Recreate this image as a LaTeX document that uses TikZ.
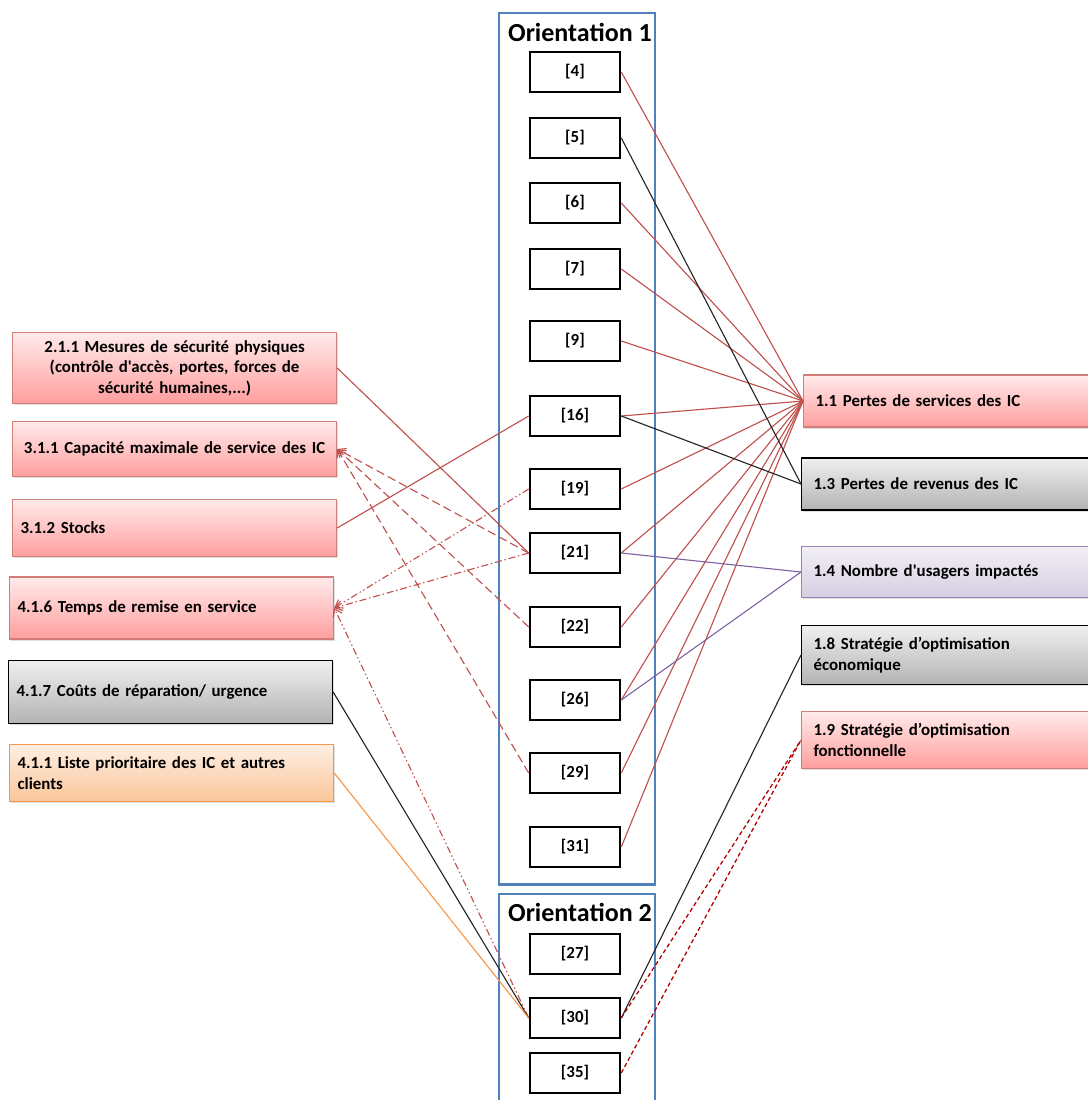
\documentclass[tikz,border=0pt]{standalone}
\usepackage{fontspec}
\setmainfont{Carlito}[Ligatures=TeXOff]
\usetikzlibrary{arrows.meta,shadows}
\definecolor{ocblue}{HTML}{4F81BD}
\definecolor{ocred}{HTML}{C0504D}
\definecolor{ocpurple}{HTML}{8064A2}
\definecolor{ocorange}{HTML}{F79646}
\begin{document}
\begin{tikzpicture}[x=0.025cm,y=-0.025cm,font=\bfseries\fontsize{12}{14.5}\selectfont]
            \tikzstyle{refbox}=[draw=black, line width=1.8pt, fill=white, minimum width=2.25cm, minimum height=1cm, inner sep=1pt]
            \tikzstyle{orient}=[draw=ocblue, line width=1.5pt, minimum width=3.9cm, anchor=north west, inner sep=0pt]
            \tikzstyle{title}=[font=\bfseries\fontsize{18.5}{20}\selectfont, inner sep=0pt]
            \tikzstyle{soft}=[drop shadow={opacity=0.25, shadow xshift=0.8pt, shadow yshift=-1.2pt}]
            \tikzstyle{redbox}=[soft, draw=ocred!75, line width=0.8pt, top color=red!8, bottom color=red!38, text=black]
            \tikzstyle{greybox}=[soft, draw=black, line width=0.8pt, top color=black!6, bottom color=black!30, text=black]
            \tikzstyle{purplebox}=[soft, draw=ocpurple!80, line width=0.8pt, top color=ocpurple!10, bottom color=ocpurple!32, text=black]
            \tikzstyle{orangebox}=[soft, draw=ocorange, line width=0.8pt, top color=ocorange!15, bottom color=ocorange!55, text=black]
            \tikzstyle{leftbox}=[anchor=west, minimum width=8.1cm, text width=7.7cm, inner sep=0.2cm]
            \tikzstyle{rightbox}=[anchor=west, minimum width=8cm, text width=7.5cm, align=left, inner sep=0.3cm]
            \tikzstyle{redline}=[draw=ocred, line width=0.8pt]
            \tikzstyle{blackline}=[draw=black!85, line width=0.8pt]
            \tikzstyle{purpleline}=[draw=ocpurple, line width=0.8pt]
            \tikzstyle{redfine}=[draw=red!70!black, line width=0.9pt, dash pattern=on 3pt off 2pt]
            \tikzstyle{redback}=[draw=ocred, line width=0.8pt, -{Straight Barb[length=5pt,width=7pt]}]
            \useasboundingbox (0,0) rectangle (1087,1100);
            % orientation frames
            \node[orient, minimum height=21.78cm] (O1) at (498,12) {};
            \node[orient, minimum height=5.6cm] (O2) at (498,893) {};
            \node[title] (T1) at (580,32) {Orientation 1};
            \node[title] (T2) at (580,912) {Orientation 2};
            % references
            \node[refbox] (r4) at (575,72) {[4]};
            \node[refbox] (r5) at (575,138) {[5]};
            \node[refbox] (r6) at (575,203) {[6]};
            \node[refbox] (r7) at (575,269) {[7]};
            \node[refbox] (r9) at (575,341) {[9]};
            \node[refbox] (r16) at (575,416) {[16]};
            \node[refbox] (r19) at (575,489) {[19]};
            \node[refbox] (r21) at (575,553) {[21]};
            \node[refbox] (r22) at (575,627) {[22]};
            \node[refbox] (r26) at (575,700) {[26]};
            \node[refbox] (r29) at (575,773) {[29]};
            \node[refbox] (r31) at (575,847) {[31]};
            \node[refbox] (r27) at (575,954) {[27]};
            \node[refbox] (r30) at (575,1018) {[30]};
            \node[refbox] (r35) at (575,1073) {[35]};
            % left column
            \node[redbox, leftbox, align=center, minimum height=1.58cm] (a211) at (12,368) {2.1.1 Mesures de sécurité physiques\\ (contrôle d'accès, portes, forces de\\ sécurité humaines,...)};
            \node[redbox, leftbox, align=center, minimum height=1.38cm] (a311) at (12,449) {3.1.1 Capacité maximale de service des IC};
            \node[redbox, leftbox, align=left, minimum height=1.42cm] (a312) at (12,528) {3.1.2 Stocks};
            \node[redbox, leftbox, align=left, minimum height=1.55cm] (a416) at (9,608) {4.1.6 Temps de remise en service};
            \node[greybox, leftbox, align=left, minimum height=1.58cm] (a417) at (8,692) {4.1.7 Coûts de réparation/ urgence};
            \node[orangebox, leftbox, align=left, minimum height=1.42cm] (a411) at (9,773) {4.1.1 Liste prioritaire des IC et autres\\ clients};
            % right column
            \node[redbox, rightbox, minimum height=1.3cm] (b11) at (803,401) {1.1 Pertes de services des IC};
            \node[greybox, rightbox, minimum height=1.3cm] (b13) at (801,484) {1.3 Pertes de revenus des IC};
            \node[purplebox, rightbox, minimum height=1.28cm] (b14) at (801,572) {1.4 Nombre d'usagers impactés};
            \node[greybox, rightbox, minimum height=1.38cm] (b18) at (801,655) {1.8 Stratégie d’optimisation\\ économique};
            \node[redbox, rightbox, minimum height=1.38cm] (b19) at (801,740) {1.9 Stratégie d’optimisation\\ fonctionnelle};
            % links towards the right
            \path (r4.east) edge[redline] (b11.west);
            \path (r6.east) edge[redline] (b11.west);
            \path (r7.east) edge[redline] (b11.west);
            \path (r9.east) edge[redline] (b11.west);
            \path (r16.east) edge[redline] (b11.west);
            \path (r19.east) edge[redline] (b11.west);
            \path (r21.east) edge[redline] (b11.west);
            \path (r22.east) edge[redline] (b11.west);
            \path (r26.east) edge[redline] (b11.west);
            \path (r29.east) edge[redline] (b11.west);
            \path (r31.east) edge[redline] (b11.west);
            \path (r5.east) edge[blackline] (b13.west);
            \path (r16.east) edge[blackline] (b13.west);
            \path (r21.east) edge[purpleline] (b14.west);
            \path (r26.east) edge[purpleline] (b14.west);
            \path (r30.east) edge[blackline] (b18.west);
            \path (r30.east) edge[redfine] (b19.west);
            \path (r35.east) edge[redfine] (b19.west);
            % links towards the left
            \path (a211.east) edge[redline] (r21.west);
            \path (a312.east) edge[redline] (r16.west);
            \path (r21.west) edge[redback, dash pattern=on 6pt off 3pt] (a311.east);
            \path (r22.west) edge[redback, dash pattern=on 6pt off 3pt] (a311.east);
            \path (r29.west) edge[redback, dash pattern=on 6pt off 3pt] (a311.east);
            \path (r21.west) edge[redback, dash pattern=on 5pt off 2pt on 1pt off 2pt] (a416.east);
            \path (r19.west) edge[redback, dash pattern=on 5pt off 2pt on 1pt off 2pt on 1pt off 2pt] (a416.east);
            \path (r30.west) edge[redback, dash pattern=on 5pt off 2pt on 1pt off 2pt on 1pt off 2pt] (a416.east);
            \path (a417.east) edge[blackline] (r30.west);
            \path (a411.east) edge[draw=ocorange, line width=0.8pt] (r30.west);
        \end{tikzpicture}
\end{document}
